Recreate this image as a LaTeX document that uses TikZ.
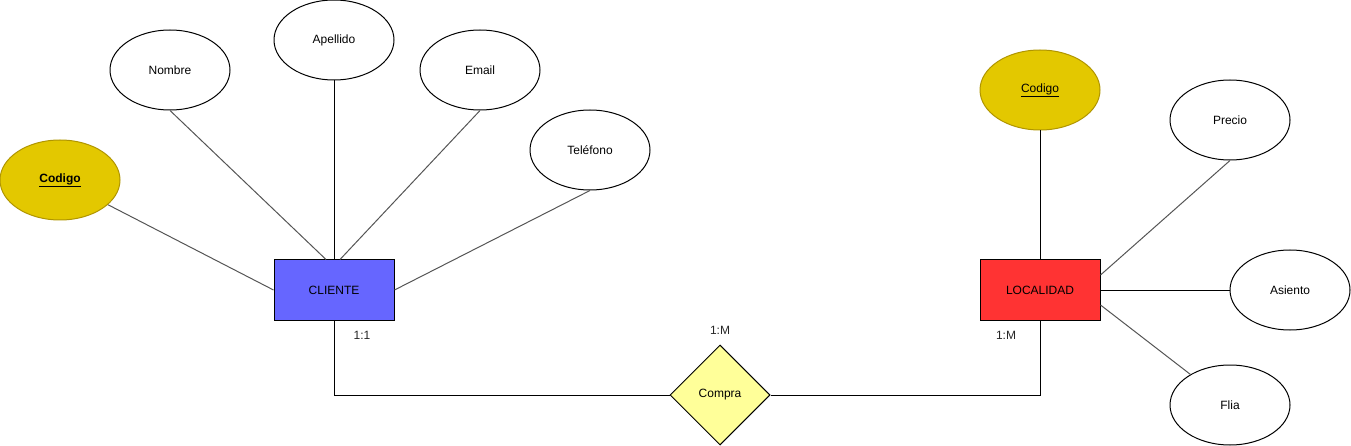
\documentclass[tikz,border=0pt]{standalone}
\usepackage{fontspec}
\setmainfont{Liberation Sans}
\usetikzlibrary{shapes.geometric}
\definecolor{gold}{HTML}{E3C800}
\definecolor{goldline}{HTML}{B09500}
\definecolor{cliblue}{HTML}{6666FF}
\definecolor{locred}{HTML}{FF3333}
\definecolor{relyel}{HTML}{FFFF99}
\definecolor{edgegray}{HTML}{555555}
\tikzset{
  attr/.style={ellipse, draw=black, fill=white, line width=1pt, minimum width=120pt, minimum height=80pt, inner sep=0pt, font=\fontsize{12}{14}\selectfont},
  keyattr/.style={attr, draw=goldline, fill=gold},
  entity/.style={rectangle, draw=black, line width=1pt, minimum width=120pt, minimum height=60pt, inner sep=0pt, font=\fontsize{12}{14}\selectfont},
  rel/.style={diamond, draw=black, fill=relyel, line width=1pt, minimum width=100pt, minimum height=100pt, shape aspect=1, inner sep=0pt, font=\fontsize{12}{14}\selectfont},
  link/.style={draw=edgegray, line width=1pt},
  blink/.style={draw=black, line width=1pt},
  card/.style={font=\fontsize{12}{14}\selectfont, text=black!85, inner sep=0pt}
}
\begin{document}
\begin{tikzpicture}[x=1pt, y=-1pt]
\useasboundingbox (0,0) rectangle (1351,446);
% CLIENTE side
\node[entity, fill=cliblue] (cli) at (334,290) {CLIENTE};
\node[keyattr] (cod1) at (60,180) {\textbf{\underline{Codigo}}};
\node[attr] (nom) at (170,70) {Nombre};
\node[attr] (ape) at (334,40) {Apellido};
\node[attr] (ema) at (480,70) {Email};
\node[attr] (tel) at (590,150) {Teléfono};
% LOCALIDAD side
\node[entity, fill=locred] (loc) at (1040,290) {LOCALIDAD};
\node[keyattr] (cod2) at (1040,90) {\underline{Codigo}};
\node[attr] (pre) at (1230,120) {Precio};
\node[attr] (asi) at (1290,290) {Asiento};
\node[attr] (fli) at (1230,405) {Flia};
% relation
\node[rel] (com) at (720,395) {Compra};
% attribute links
\draw[link] (cod1) -- (cli.west);
\draw[link] (nom.south) -- ([xshift=-8pt]cli.north);
\draw[blink] (ape.south) -- (cli.north);
\draw[link] (ema.south) -- ([xshift=6pt]cli.north);
\draw[link] (tel.south) -- (cli.east);
\draw[blink] (cod2.south) -- (loc.north);
\draw[link] (pre.south) -- ([yshift=15pt]loc.east);
\draw[blink] (loc.east) -- (asi.west);
\draw[link] ([yshift=-15pt]loc.east) -- (fli);
% relation links
\draw[blink] (cli.south) |- (com.west);
\draw[blink] (loc.south) |- (com.east);
% cardinalities
\node[card] (c1) at (362,335) {1:1};
\node[card] (c2) at (720,330) {1:M};
\node[card] (c3) at (1006,335) {1:M};
\end{tikzpicture}
\end{document}
